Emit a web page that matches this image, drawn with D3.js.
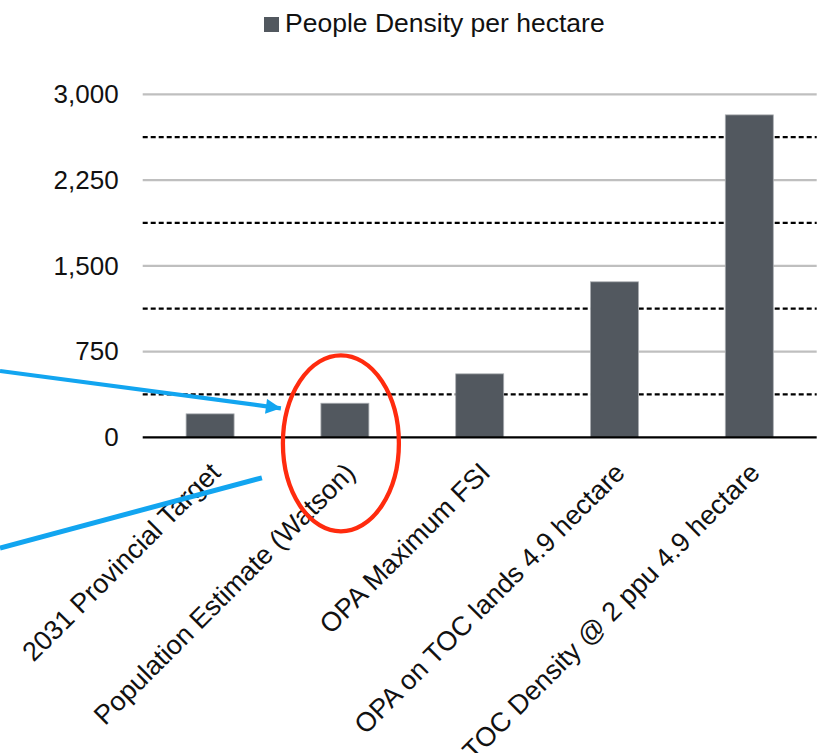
<!DOCTYPE html>
<html>
<head>
<meta charset="utf-8">
<script src="https://cdn.jsdelivr.net/npm/d3@7"></script>
<style>
  html, body { margin: 0; padding: 0; background: #fff; }
  svg { display: block; font-family: "Liberation Sans", Arial, sans-serif; }
</style>
</head>
<body>
<svg id="chart" width="821" height="753"></svg>
<script>
// Density comparison, people per hectare
const categories = [
  "2031 Provincial Target",
  "Population Estimate (Watson)",
  "OPA Maximum FSI",
  "OPA on TOC lands 4.9 hectare",
  "TOC Density @ 2 ppu 4.9 hectare"
];
const density = [205, 298, 555, 1360, 2820];
const seriesName = "People Density per hectare";
const majorTicks = [0, 750, 1500, 2250, 3000];
const minorTicks = [375, 1125, 1875, 2625];

const W = 821, H = 753;
const margin = { top: 94.3, right: 4.3, bottom: H - 437.3, left: 142.7 };

const svg = d3.select("#chart");

const x = d3.scaleBand()
  .domain(categories)
  .range([margin.left, W - margin.right])
  .paddingInner(0.644)
  .paddingOuter(0.322);

const y = d3.scaleLinear()
  .domain([0, 3000])
  .range([H - margin.bottom, margin.top]);

const barColor = "#52585F";

// solid major gridlines
svg.append("g")
  .selectAll("line")
  .data(majorTicks.filter(d => d > 0))
  .join("line")
  .attr("x1", margin.left).attr("x2", W - margin.right)
  .attr("y1", d => y(d)).attr("y2", d => y(d))
  .attr("stroke", "#BFBFBF").attr("stroke-width", 2.2);

// dashed minor gridlines
svg.append("g")
  .selectAll("line")
  .data(minorTicks)
  .join("line")
  .attr("x1", margin.left).attr("x2", W - margin.right)
  .attr("y1", d => y(d)).attr("y2", d => y(d))
  .attr("stroke", "#000").attr("stroke-width", 2.2)
  .attr("stroke-dasharray", "5,3");

// y axis labels (no axis line or tick marks)
const yAxis = d3.axisLeft(y)
  .tickValues(majorTicks)
  .tickSize(0)
  .tickPadding(24)
  .tickFormat(d3.format(","));
const yg = svg.append("g")
  .attr("transform", `translate(${margin.left},0)`)
  .call(yAxis);
yg.select(".domain").remove();
yg.selectAll("text")
  .attr("font-size", 26)
  .attr("fill", "#111")
  .attr("font-family", "Liberation Sans, Arial, sans-serif");

// bars
svg.append("g")
  .selectAll("rect")
  .data(density)
  .join("rect")
  .attr("x", (d, i) => x(categories[i]))
  .attr("width", x.bandwidth())
  .attr("y", d => y(d))
  .attr("height", d => y(0) - y(d))
  .attr("fill", barColor)
  .attr("stroke", "#A9ADB1")
  .attr("stroke-width", 0.8);

// baseline
svg.append("line")
  .attr("x1", margin.left).attr("x2", W - margin.right)
  .attr("y1", y(0)).attr("y2", y(0))
  .attr("stroke", "#000").attr("stroke-width", 2.2);

// rotated category labels
svg.append("g")
  .selectAll("text")
  .data(categories)
  .join("text")
  .attr("transform", d => `translate(${x(d) + x.bandwidth() / 2 + 12},${y(0) + 37}) rotate(-45)`)
  .attr("text-anchor", "end")
  .attr("font-size", 27)
  .attr("fill", "#111")
  .text(d => d);

// legend
const legend = svg.append("g");
legend.append("rect")
  .attr("x", 264).attr("y", 17)
  .attr("width", 15).attr("height", 15)
  .attr("fill", barColor);
legend.append("text")
  .attr("x", 285).attr("y", 32)
  .attr("font-size", 26.5)
  .attr("fill", "#111")
  .text(seriesName);

// call-out overlay: arrow, pointer line and highlight ring
const blue = "#12A5F0";
const red = "#FF2B0E";
const c2 = categories[1];
const c2x = x(c2) + x.bandwidth() / 2;

const defs = svg.append("defs");
defs.append("marker")
  .attr("id", "arrowHead")
  .attr("viewBox", "0 0 10 10")
  .attr("refX", 10).attr("refY", 5)
  .attr("markerUnits", "userSpaceOnUse")
  .attr("markerWidth", 17).attr("markerHeight", 15)
  .attr("orient", "auto")
  .append("path")
  .attr("d", "M0,0 L10,5 L0,10 Z")
  .attr("fill", blue);

svg.append("line")
  .attr("x1", 0).attr("y1", 371)
  .attr("x2", x(c2) - 40).attr("y2", y(0) - 29)
  .attr("stroke", blue).attr("stroke-width", 4.2)
  .attr("marker-end", "url(#arrowHead)");

svg.append("line")
  .attr("x1", 0).attr("y1", 548)
  .attr("x2", x(c2) - 59).attr("y2", y(0) + 40.5)
  .attr("stroke", blue).attr("stroke-width", 5);

svg.append("ellipse")
  .attr("cx", c2x - 4).attr("cy", y(0) + 6)
  .attr("rx", 58).attr("ry", 88)
  .attr("fill", "none")
  .attr("stroke", red).attr("stroke-width", 4.3);
</script>
</body>
</html>
